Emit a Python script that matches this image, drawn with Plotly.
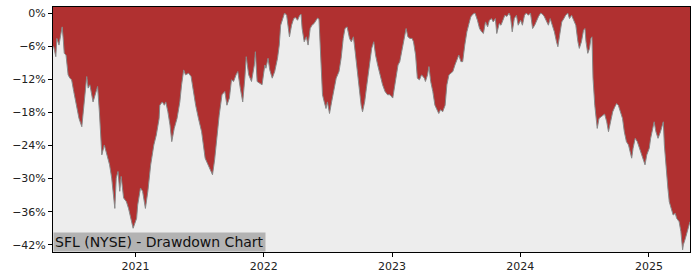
import plotly.graph_objects as go
import pandas as pd

dates = [
    "2020-05-11", "2020-05-13", "2020-05-19", "2020-05-22", "2020-05-28", "2020-06-03", "2020-06-06",
    "2020-06-09", "2020-06-12", "2020-06-17", "2020-06-23", "2020-06-28", "2020-07-03", "2020-07-09",
    "2020-07-17", "2020-07-24", "2020-08-01", "2020-08-05", "2020-08-11", "2020-08-15", "2020-08-19",
    "2020-08-24", "2020-09-02", "2020-09-08", "2020-09-15", "2020-09-20", "2020-09-27", "2020-10-04",
    "2020-10-11", "2020-10-19", "2020-10-25", "2020-11-03", "2020-11-07", "2020-11-12", "2020-11-17",
    "2020-11-21", "2020-11-28", "2020-12-06", "2020-12-12", "2020-12-19", "2020-12-25",
    "2021-01-04", "2021-01-07", "2021-01-15", "2021-01-21", "2021-01-29", "2021-02-05", "2021-02-13",
    "2021-02-22", "2021-03-01", "2021-03-09", "2021-03-11", "2021-03-18", "2021-03-24", "2021-03-28",
    "2021-04-03", "2021-04-09", "2021-04-14", "2021-04-21", "2021-04-29", "2021-05-07", "2021-05-12",
    "2021-05-18", "2021-05-23", "2021-06-01", "2021-06-08", "2021-06-15", "2021-06-21", "2021-06-29",
    "2021-07-08", "2021-07-18", "2021-07-27", "2021-08-04", "2021-08-08", "2021-08-14", "2021-08-20",
    "2021-08-27", "2021-09-04", "2021-09-12", "2021-09-18", "2021-09-25", "2021-10-01", "2021-10-07",
    "2021-10-14", "2021-10-19", "2021-10-26", "2021-11-02", "2021-11-08", "2021-11-12", "2021-11-19",
    "2021-11-27", "2021-12-05", "2021-12-08", "2021-12-13", "2021-12-20", "2021-12-27",
    "2022-01-04", "2022-01-07", "2022-01-13", "2022-01-18", "2022-01-25", "2022-02-01", "2022-02-09",
    "2022-02-14", "2022-02-18", "2022-02-24", "2022-03-01", "2022-03-07", "2022-03-11", "2022-03-15",
    "2022-03-21", "2022-03-27", "2022-04-01", "2022-04-07", "2022-04-13", "2022-04-17", "2022-04-20",
    "2022-04-26", "2022-05-02", "2022-05-07", "2022-05-13", "2022-05-18", "2022-05-24", "2022-05-30",
    "2022-06-03", "2022-06-07", "2022-06-11", "2022-06-17", "2022-06-22", "2022-06-27", "2022-07-01",
    "2022-07-07", "2022-07-13", "2022-07-18", "2022-07-26", "2022-08-03", "2022-08-09", "2022-08-15",
    "2022-08-20", "2022-08-26", "2022-09-02", "2022-09-07", "2022-09-13", "2022-09-18", "2022-09-24",
    "2022-09-30", "2022-10-05", "2022-10-09", "2022-10-15", "2022-10-20", "2022-10-27", "2022-11-01",
    "2022-11-04", "2022-11-10", "2022-11-15", "2022-11-21", "2022-11-27", "2022-12-05", "2022-12-12",
    "2022-12-19", "2022-12-26",
    "2023-01-03", "2023-01-06", "2023-01-12", "2023-01-18", "2023-01-23", "2023-01-29", "2023-02-04",
    "2023-02-10", "2023-02-15", "2023-02-21", "2023-02-27", "2023-03-03", "2023-03-09", "2023-03-14",
    "2023-03-20", "2023-03-26", "2023-04-03", "2023-04-06", "2023-04-12", "2023-04-16", "2023-04-21",
    "2023-04-27", "2023-05-03", "2023-05-08", "2023-05-14", "2023-05-19", "2023-05-25", "2023-06-01",
    "2023-06-06", "2023-06-12", "2023-06-17", "2023-06-23", "2023-06-29", "2023-07-05", "2023-07-10",
    "2023-07-16", "2023-07-21", "2023-07-27", "2023-08-02", "2023-08-08", "2023-08-13", "2023-08-19",
    "2023-08-25", "2023-09-01", "2023-09-07", "2023-09-13", "2023-09-18", "2023-09-24", "2023-09-30",
    "2023-10-05", "2023-10-11", "2023-10-16", "2023-10-22", "2023-10-26", "2023-11-02", "2023-11-07",
    "2023-11-13", "2023-11-18", "2023-11-24", "2023-11-30", "2023-12-04", "2023-12-09", "2023-12-15",
    "2023-12-21", "2023-12-26",
    "2024-01-02", "2024-01-07", "2024-01-13", "2024-01-18", "2024-01-24", "2024-01-30", "2024-02-05",
    "2024-02-11", "2024-02-16", "2024-02-22", "2024-02-28", "2024-03-04", "2024-03-09", "2024-03-15",
    "2024-03-21", "2024-03-26", "2024-04-02", "2024-04-07", "2024-04-13", "2024-04-17", "2024-04-22",
    "2024-04-28", "2024-05-04", "2024-05-09", "2024-05-15", "2024-05-20", "2024-05-26", "2024-06-02",
    "2024-06-07", "2024-06-13", "2024-06-17", "2024-06-23", "2024-06-29", "2024-07-03", "2024-07-06",
    "2024-07-11", "2024-07-16", "2024-07-20", "2024-07-23", "2024-07-26", "2024-07-31", "2024-08-07",
    "2024-08-12", "2024-08-18", "2024-08-24", "2024-08-28", "2024-09-03", "2024-09-08", "2024-09-14",
    "2024-09-20", "2024-09-26", "2024-10-01", "2024-10-06", "2024-10-12", "2024-10-18", "2024-10-23",
    "2024-10-29", "2024-11-04", "2024-11-08", "2024-11-13", "2024-11-17", "2024-11-23", "2024-11-29",
    "2024-12-05", "2024-12-10", "2024-12-16", "2024-12-21", "2024-12-26",
    "2025-01-02", "2025-01-06", "2025-01-12", "2025-01-16", "2025-01-21", "2025-01-27", "2025-02-03",
    "2025-02-07", "2025-02-11", "2025-02-14", "2025-02-19", "2025-02-24", "2025-02-28", "2025-03-06",
    "2025-03-11", "2025-03-17", "2025-03-21", "2025-03-28", "2025-04-02", "2025-04-07", "2025-04-09",
    "2025-04-15", "2025-04-21", "2025-04-28",
]

drawdown = [
    -6.1, -6.1, -7.9, -4.6, -5.8, -3.4, -2.5,
    -4.6, -7.3, -7.6, -11.2, -11.8, -12.1, -14.2,
    -16.7, -19.1, -20.6, -17.9, -14.2, -11.5, -13.6,
    -13.0, -16.1, -14.8, -13.3, -17.9, -25.7, -23.9,
    -25.7, -27.5, -29.9, -35.4, -29.9, -28.7, -32.3,
    -29.6, -33.5, -34.2, -35.4, -37.2, -39.0,
    -37.2, -34.8, -31.7, -32.3, -35.4, -32.3, -27.5,
    -23.9, -22.1, -19.1, -16.7, -16.1, -16.7, -16.1,
    -17.9, -20.3, -23.3, -20.9, -19.1, -16.1, -13.0,
    -10.3, -11.2, -10.9, -11.5, -14.8, -16.7, -19.1,
    -21.5, -26.3, -27.5, -28.7, -29.3, -26.6, -22.7,
    -18.5, -14.8, -14.2, -16.7, -15.4, -12.1, -12.4,
    -11.2, -10.6, -13.6, -16.1, -11.8, -7.9, -11.2,
    -12.4, -9.4, -7.0, -12.4, -12.7, -13.0,
    -9.4, -10.0, -8.2, -10.3, -11.8, -10.6, -8.2,
    -5.8, -2.2, -1.0, 0.0, -0.4, -2.8, -4.3,
    -2.2, -1.0, -0.8, -1.3, -0.4, -0.2, -2.8,
    -5.2, -4.3, -5.8, -2.8, -2.2, -1.9, -1.3,
    -0.9, -1.1, -7.6, -14.8, -16.1, -17.3, -16.1,
    -18.2, -16.1, -14.2, -11.8, -10.6, -8.2, -4.6,
    -2.8, -2.5, -4.6, -5.2, -4.3, -7.0, -10.6,
    -14.8, -16.7, -17.9, -16.1, -13.6, -10.0, -7.0,
    -6.4, -5.2, -7.6, -9.4, -11.2, -13.0, -14.2,
    -14.8, -14.8,
    -15.4, -14.2, -11.8, -9.4, -8.8, -7.0, -5.2,
    -2.8, -4.3, -4.6, -4.6, -5.2, -7.6, -11.8,
    -12.1, -11.2, -11.8, -12.4, -11.2, -9.7, -12.4,
    -14.2, -16.7, -17.3, -18.2, -17.5, -17.9, -16.7,
    -13.0, -11.2, -10.9, -10.6, -9.4, -8.2, -7.6,
    -8.8, -8.8, -5.8, -3.4, -1.9, -0.7, -0.2,
    0.0, -1.3, -2.8, -3.4, -3.7, -1.6, -2.5,
    -1.3, -1.0, -1.6, -1.0, -3.7, -1.9, -2.2,
    -1.0, -0.4, -0.6, 0.0, -0.6, -3.4, -1.0,
    -0.4, -2.2,
    -1.3, -2.2, -0.4, 0.0, -0.4, 0.0, -2.8,
    -2.2, -1.3, -0.6, 0.0, -0.2, -0.6, -1.3,
    -2.2, -1.0, -2.2, -3.4, -5.2, -6.1, -4.0,
    -1.6, -1.0, -0.4, 0.0, -1.0, -0.4, -1.3,
    -2.2, -5.2, -6.4, -5.2, -3.1, -2.8, -5.2,
    -7.3, -6.4, -4.6, -4.3, -11.8, -16.7, -20.9,
    -19.1, -18.8, -18.5, -18.3, -19.7, -21.5, -19.7,
    -17.9, -17.0, -16.4, -16.7, -17.9, -19.1, -21.5,
    -23.3, -23.9, -25.1, -26.3, -24.5, -22.7, -23.3,
    -24.5, -25.1, -26.3, -27.5, -25.7,
    -24.5, -22.7, -20.9, -19.7, -21.5, -22.7, -21.5,
    -20.3, -19.7, -23.9, -28.7, -31.7, -34.2, -35.4,
    -36.6, -36.3, -37.2, -37.8, -39.6, -42.9, -42.0,
    -40.8, -39.6, -37.8,
]

y_ticks = [0, -6, -12, -18, -24, -30, -36, -42]
y_tick_text = ["0%", "\u22126%", "\u221212%", "\u221218%", "\u221224%", "\u221230%", "\u221236%", "\u221242%"]
x_ticks = ["2021-01-01", "2022-01-01", "2023-01-01", "2024-01-01", "2025-01-01"]
x_tick_text = ["2021", "2022", "2023", "2024", "2025"]
title_text = "SFL (NYSE) - Drawdown Chart"

y_top = 1.1
y_bottom = -43.3

x = pd.to_datetime(dates)
fig = go.Figure()
fig.add_trace(go.Scatter(x=x, y=[y_top + 5] * len(x), mode="lines",
                         line=dict(width=0, color="rgba(0,0,0,0)"), hoverinfo="skip", showlegend=False))
fig.add_trace(go.Scatter(x=x, y=drawdown, mode="lines", fill="tonexty",
                         fillcolor="#b03030", line=dict(color="#888888", width=1),
                         showlegend=False))

fig.update_layout(
    width=700, height=280,
    margin=dict(l=53, r=10, t=7, b=28),
    paper_bgcolor="white", plot_bgcolor="#ededed",
    font=dict(family="DejaVu Sans", size=11, color="#222222"),
)
fig.update_xaxes(
    range=[x[0], x[-1]], tickvals=pd.to_datetime(x_ticks), ticktext=x_tick_text,
    showgrid=False, zeroline=False, showline=True, linecolor="black", linewidth=1, mirror=True,
    ticks="outside", ticklen=4, tickcolor="black",
)
fig.update_yaxes(
    range=[y_bottom, y_top], tickvals=y_ticks, ticktext=y_tick_text,
    showgrid=False, zeroline=False, showline=True, linecolor="black", linewidth=1, mirror=True,
    ticks="outside", ticklen=4, tickcolor="black",
)
fig.add_annotation(
    x=0, y=0, xref="paper", yref="paper", xanchor="left", yanchor="bottom",
    text=title_text, showarrow=False, bgcolor="#b3b3b3", borderpad=1,
    font=dict(family="DejaVu Sans", size=14, color="#111111"),
)
fig.write_html("out.html")
